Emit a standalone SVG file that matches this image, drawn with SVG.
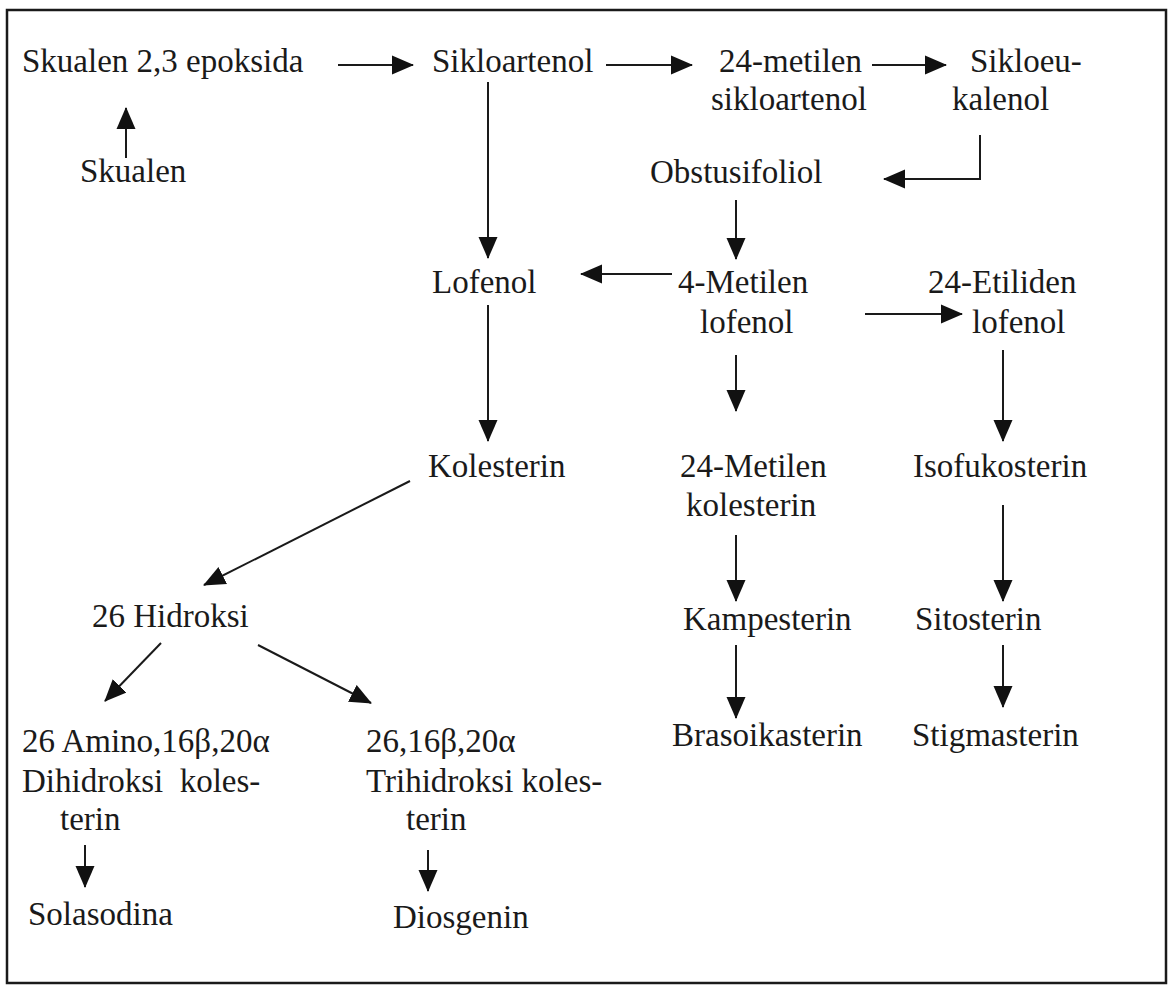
<svg xmlns="http://www.w3.org/2000/svg" width="1172" height="991" viewBox="0 0 1172 991">
<defs>
<marker id="ah" viewBox="0 0 22 20" refX="21" refY="10" markerWidth="22" markerHeight="20" markerUnits="userSpaceOnUse" orient="auto">
<path d="M0,0.5 L22,10 L0,19.5 Z" fill="#111"/>
</marker>
</defs>
<style>
text{font-family:"Liberation Serif","Times New Roman",serif;font-size:33px;fill:#1a1a1a}
.c line,.c path{stroke:#1a1a1a;stroke-width:2;fill:none}
</style>
<rect x="0" y="0" width="1172" height="991" fill="#fff"/>
<rect x="7" y="10" width="1159" height="973" fill="none" stroke="#1a1a1a" stroke-width="2.5"/>
<g id="n-skualen-epoksida"><text x="22" y="72">Skualen 2,3 epoksida</text></g>
<g id="n-skualen"><text x="80" y="182">Skualen</text></g>
<g id="n-sikloartenol"><text x="432" y="72">Sikloartenol</text></g>
<g id="n-24-metilen-sikloartenol"><text x="719" y="72">24-metilen</text><text x="711" y="110">sikloartenol</text></g>
<g id="n-sikloeukalenol"><text x="970" y="72">Sikloeu-</text><text x="952" y="110">kalenol</text></g>
<g id="n-obstusifoliol"><text x="650" y="183">Obstusifoliol</text></g>
<g id="n-lofenol"><text x="432" y="293">Lofenol</text></g>
<g id="n-4-metilen-lofenol"><text x="678" y="293">4-Metilen</text><text x="700" y="333">lofenol</text></g>
<g id="n-24-etiliden-lofenol"><text x="928" y="293">24-Etiliden</text><text x="972" y="333">lofenol</text></g>
<g id="n-kolesterin"><text x="428" y="477">Kolesterin</text></g>
<g id="n-24-metilen-kolesterin"><text x="680" y="477">24-Metilen</text><text x="686" y="516">kolesterin</text></g>
<g id="n-isofukosterin"><text x="913" y="477">Isofukosterin</text></g>
<g id="n-26-hidroksi"><text x="92" y="627">26 Hidroksi</text></g>
<g id="n-kampesterin"><text x="683" y="630">Kampesterin</text></g>
<g id="n-sitosterin"><text x="915" y="630">Sitosterin</text></g>
<g id="n-brasoikasterin"><text x="672" y="746">Brasoikasterin</text></g>
<g id="n-stigmasterin"><text x="912" y="746">Stigmasterin</text></g>
<g id="n-amino"><text x="22" y="752">26 Amino,16β,20α</text><text x="22" y="792" xml:space="preserve">Dihidroksi  koles-</text><text x="60" y="830">terin</text></g>
<g id="n-trihidroksi"><text x="366" y="752">26,16β,20α</text><text x="366" y="792">Trihidroksi koles-</text><text x="406" y="830">terin</text></g>
<g id="n-solasodina"><text x="28" y="925">Solasodina</text></g>
<g id="n-diosgenin"><text x="393" y="928">Diosgenin</text></g>
<g id="connectors" class="c">
<line x1="338" y1="65" x2="413" y2="65" marker-end="url(#ah)"/>
<line x1="606" y1="65" x2="692" y2="65" marker-end="url(#ah)"/>
<line x1="872" y1="65" x2="946" y2="65" marker-end="url(#ah)"/>
<line x1="126" y1="158" x2="126" y2="108" marker-end="url(#ah)"/>
<line x1="488" y1="82" x2="488" y2="258" marker-end="url(#ah)"/>
<path d="M980,135 L980,179 L884,179" marker-end="url(#ah)"/>
<line x1="736" y1="200" x2="736" y2="259" marker-end="url(#ah)"/>
<line x1="672" y1="274" x2="581" y2="274" marker-end="url(#ah)"/>
<line x1="865" y1="314" x2="962" y2="314" marker-end="url(#ah)"/>
<line x1="736" y1="355" x2="736" y2="411" marker-end="url(#ah)"/>
<line x1="488" y1="305" x2="488" y2="441" marker-end="url(#ah)"/>
<line x1="1003" y1="350" x2="1003" y2="441" marker-end="url(#ah)"/>
<line x1="410" y1="481" x2="204" y2="585" marker-end="url(#ah)"/>
<line x1="161" y1="643" x2="105" y2="701" marker-end="url(#ah)"/>
<line x1="258" y1="645" x2="371" y2="703" marker-end="url(#ah)"/>
<line x1="736" y1="535" x2="736" y2="601" marker-end="url(#ah)"/>
<line x1="1003" y1="505" x2="1003" y2="601" marker-end="url(#ah)"/>
<line x1="736" y1="645" x2="736" y2="718" marker-end="url(#ah)"/>
<line x1="1003" y1="645" x2="1003" y2="707" marker-end="url(#ah)"/>
<line x1="85" y1="845" x2="85" y2="887" marker-end="url(#ah)"/>
<line x1="428" y1="850" x2="428" y2="891" marker-end="url(#ah)"/>
</g>
</svg>
